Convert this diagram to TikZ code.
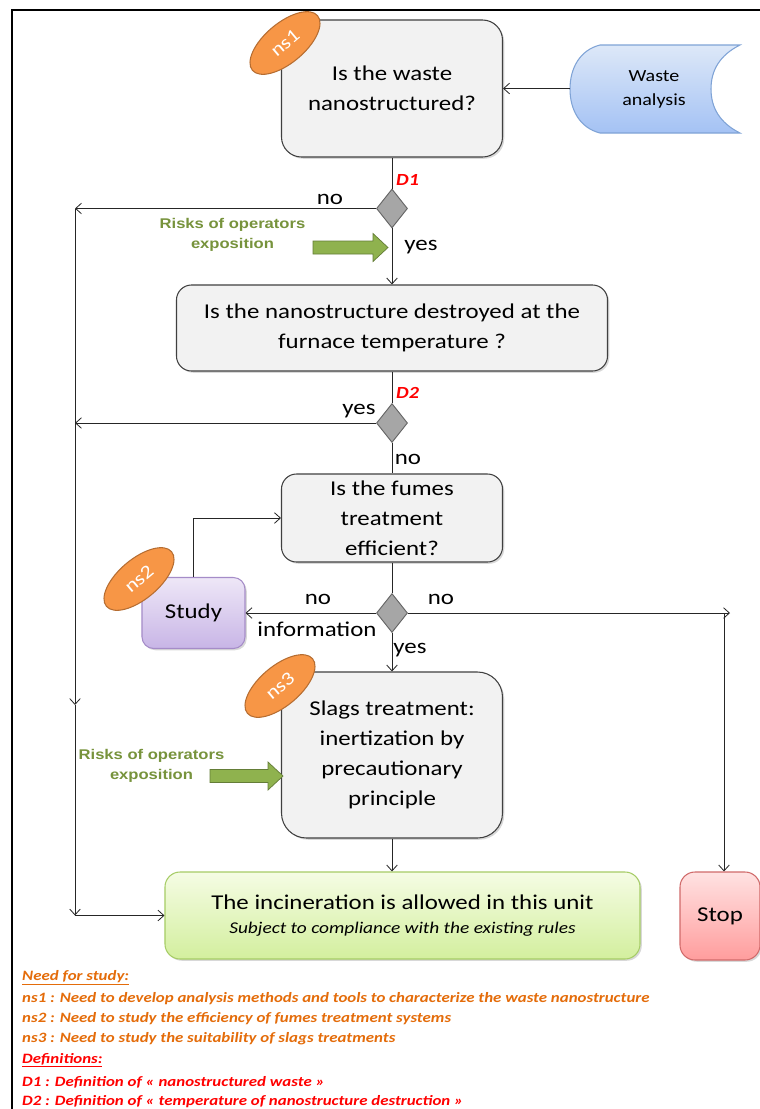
\documentclass[tikz,border=0pt]{standalone}
\usepackage{fontspec}
\setmainfont{Carlito}[FakeStretch=1.18]
\newfontfamily\riskfont{Liberation Sans}[FakeStretch=1.18]
\usepackage{tikz}
\usetikzlibrary{calc,shapes,arrows.meta,shadows}

\definecolor{boxgray}{HTML}{F2F2F2}
\definecolor{nsorange}{HTML}{F79646}
\definecolor{nsedge}{HTML}{B66D31}
\definecolor{riskgreen}{HTML}{77933C}
\definecolor{arrowgreen}{HTML}{8FB24E}
\definecolor{legorange}{HTML}{E46C0A}
\definecolor{wastetop}{HTML}{DDE8F8}
\definecolor{wastebot}{HTML}{A4C2F4}
\definecolor{wasteedge}{HTML}{7FA3D6}
\definecolor{studytop}{HTML}{EEE7F7}
\definecolor{studybot}{HTML}{C8B5E6}
\definecolor{studyedge}{HTML}{A58CC8}
\definecolor{oktop}{HTML}{F5FCE4}
\definecolor{okbot}{HTML}{D3EF9E}
\definecolor{okedge}{HTML}{A6CC66}
\definecolor{stoptop}{HTML}{FFE2E2}
\definecolor{stopbot}{HTML}{FF9D9D}
\definecolor{stopedge}{HTML}{D06A6A}

\newcommand{\mainsize}{\fontsize{18}{25.5}\selectfont}

\tikzset{
  line/.style={line width=0.7pt, draw=black!85},
  flow/.style={line, -{Straight Barb[length=5pt,width=9pt]}},
  boxshadow/.style={drop shadow={shadow xshift=1.5pt, shadow yshift=-1.5pt, opacity=0.3}},
  question/.style={draw=black!75, line width=0.9pt, fill=boxgray, align=center,
    font=\mainsize, inner sep=2pt, boxshadow},
  decision/.style={diamond, draw=black!60, line width=0.8pt, fill=black!35,
    minimum width=0.93cm, minimum height=1.17cm, inner sep=0pt},
  nsmark/.style={ellipse, draw=nsedge, line width=0.9pt, fill=nsorange, text=white,
    minimum width=2.55cm, minimum height=1.2cm, inner sep=0pt, rotate=40,
    font=\fontsize{16}{16}\selectfont},
  lbl/.style={font=\mainsize, inner sep=0pt},
  dlbl/.style={font=\fontsize{14.5}{14.5}\selectfont\bfseries\itshape, text=red,
    inner sep=0pt, anchor=west},
  risk/.style={font=\riskfont\fontsize{12}{17}\selectfont\bfseries, text=riskgreen,
    align=center, inner sep=0pt},
  riskarrow/.style={fill=arrowgreen, draw=arrowgreen!70!black, line width=0.6pt},
  legend/.style={anchor=west, inner sep=0pt,
    font=\fontsize{12.2}{12.2}\selectfont\bfseries\itshape},
}

\begin{document}
\begin{tikzpicture}[x=0.03cm, y=-0.03cm]
\clip (0,0) rectangle (760,1109);
\fill[white] (0,0) rectangle (760,1109);
% frame
\draw[line width=1.4pt] (12,10) rectangle (790,1140);

% waste analysis (stored data)
\draw[line width=0.9pt, draw=wasteedge, top color=wastetop, bottom color=wastebot]
  (600,45) -- (740,45) .. controls (720,55) and (711,70) .. (711,89)
  .. controls (711,108) and (720,123) .. (740,133) -- (600,133)
  .. controls (580,128) and (570,110) .. (570,89)
  .. controls (570,68) and (580,50) .. (600,45) -- cycle;
\node[font=\fontsize{14.5}{20.4}\selectfont, align=center] (waste) at (654,89) {Waste\\analysis};
\coordinate (wa) at (570,88.5);

% questions
\node[question, rounded corners=0.6cm, minimum width=6.63cm, minimum height=4.11cm]
  (q1) at (392,88.5) {Is the waste\\nanostructured?};
\node[question, rounded corners=0.45cm, minimum width=12.93cm, minimum height=2.58cm]
  (q2) at (392,328) {Is the nanostructure destroyed at the\\furnace temperature ?};
\node[question, rounded corners=0.45cm, minimum width=6.63cm, minimum height=2.64cm]
  (q3) at (392,518) {Is the fumes\\treatment\\efficient?};
\node[question, rounded corners=0.75cm, minimum width=6.63cm, minimum height=4.98cm]
  (q4) at (392,755) {Slags treatment:\\inertization by\\precautionary\\principle};

% decisions
\node[decision] (d1) at (392,208.5) {};
\node[decision] (d2) at (392,423) {};
\node[decision] (d3) at (392,613) {};
\node[dlbl] (dd1) at (396,180) {D1};
\node[dlbl] (dd2) at (396,393) {D2};

% study, result and stop
\node[draw=studyedge, line width=0.9pt, top color=studytop, bottom color=studybot,
  rounded corners=0.35cm, minimum width=3.09cm, minimum height=2.13cm, font=\mainsize,
  boxshadow] (study) at (193.5,613) {Study};
\node[draw=okedge, line width=0.9pt, top color=oktop, bottom color=okbot,
  rounded corners=0.45cm, minimum width=14.25cm, minimum height=2.61cm, align=center,
  font=\fontsize{18}{21}\selectfont, boxshadow] (ok) at (402.5,915.5)
  {The incineration is allowed in this unit\\{\fontsize{14}{16}\selectfont\itshape Subject to compliance with the existing rules}};
\node[draw=stopedge, line width=0.9pt, top color=stoptop, bottom color=stopbot,
  rounded corners=0.45cm, minimum width=2.4cm, minimum height=2.64cm, font=\mainsize,
  boxshadow] (stop) at (720,916) {Stop};

% connectors
\coordinate (w1) at (75,208.5);
\coordinate (w2) at (75,423);
\coordinate (w3) at (75,705);
\coordinate (w4) at (75,915.5);
\coordinate (ne) at (730,613);
\coordinate (nd) at (724,613);

\draw[flow] (wa) -- (q1.east);
\draw[line] (q1) -- (d1);
\draw[flow] (d1) -- (q2);
\draw[line] (q2) -- (d2);
\draw[line] (d2) -- (q3);
\draw[line] (q3) -- (d3);
\draw[flow] (d3) -- (q4);
\draw[flow] (q4.south) -- (q4.south |- ok.north);
\draw[flow] (d3) -- (study);
\draw[flow] (study.north) |- (q3.west);
\draw[flow] (d3.east) -- (ne);
\draw[flow] (nd) -- (nd |- stop.north);
\draw[flow] (d1.west) -- (w1);
\draw[flow] (d2.west) -- (w2);
\draw[flow] (w1) -- (w3);
\draw[flow] (w3) -- (w4);
\draw[flow] (w4) -- (ok.west);

% branch labels
\node[lbl] (no1) at (330,199) {no};
\node[lbl] (yes1) at (421,247) {yes};
\node[lbl] (yes2) at (359,411) {yes};
\node[lbl] (no2) at (408,459) {no};
\node[lbl] (no3) at (318,599) {no};
\node[lbl] (info) at (317,629) {information};
\node[lbl] (no4) at (441,599) {no};
\node[lbl] (yes3) at (410,650) {yes};

% risks
\node[risk] (risk1) at (232.5,235) {Risks of operators\\exposition};
\node[risk] (risk2) at (151.5,766) {Risks of operators\\exposition};
\foreach \xa/\xb/\xc/\yc in {313/373/388/247.5, 210/268/283/776}
  \draw[riskarrow] (\xa,\yc-6.5) -- (\xb,\yc-6.5) -- (\xb,\yc-14) -- (\xc,\yc)
    -- (\xb,\yc+14) -- (\xb,\yc+6.5) -- (\xa,\yc+6.5) -- cycle;

% need for study marks
\node[nsmark] (ns1) at (285,43) {ns1};
\node[nsmark] (ns2) at (139,579) {ns2};
\node[nsmark] (ns3) at (280,686) {ns3};

% legend
\node[legend, text=legorange] (leg1) at (22,978) {\underline{Need for study:}};
\node[legend, text=legorange] (leg2) at (22,999) {ns1 : Need to develop analysis methods and tools to characterize the waste nanostructure};
\node[legend, text=legorange] (leg3) at (22,1019) {ns2 : Need to study the efficiency of fumes treatment systems};
\node[legend, text=legorange] (leg4) at (22,1039) {ns3 : Need to study the suitability of slags treatments};
\node[legend, text=red] (leg5) at (22,1060) {\underline{Definitions:}};
\node[legend, text=red] (leg6) at (22,1082) {D1 : Definition of « nanostructured waste »};
\node[legend, text=red] (leg7) at (22,1102) {D2 : Definition of « temperature of nanostructure destruction »};
\end{tikzpicture}
\end{document}
